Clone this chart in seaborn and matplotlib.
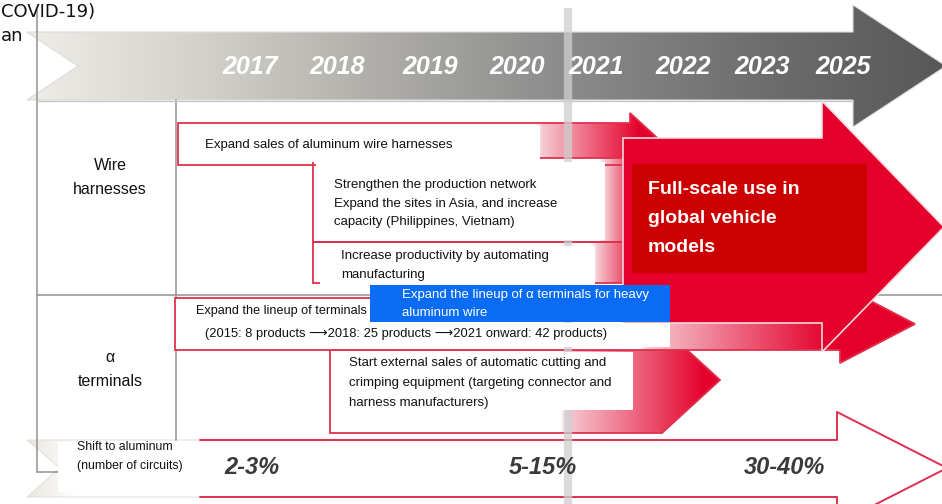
import numpy as np
import seaborn as sns
import matplotlib.pyplot as plt
from matplotlib.patches import Polygon, Rectangle
from matplotlib.colors import to_rgb

# ---- content ----
years = ["2017", "2018", "2019", "2020", "2021", "2022", "2023", "2025"]
shift_share = ["2-3%", "5-15%", "30-40%"]
row_labels = [["Wire", "harnesses"], ["α", "terminals"]]
wire_sales = ["Expand sales of aluminum wire harnesses"]
wire_network = ["Strengthen the production network",
                "Expand the sites in Asia, and increase",
                "capacity (Philippines, Vietnam)"]
wire_auto = ["Increase productivity by automating", "manufacturing"]
term_lineup = ["Expand the lineup of terminals",
               "(2015: 8 products \u27f62018: 25 products \u27f62021 onward: 42 products)"]
term_heavy = ["Expand the lineup of α terminals for heavy", "aluminum wire"]
term_equip = ["Start external sales of automatic cutting and",
              "crimping equipment (targeting connector and",
              "harness manufacturers)"]
headline = ["Full-scale use in", "global vehicle", "models"]
shift_title = ["Shift to aluminum", "(number of circuits)"]
corner_text = ["COVID-19)", "an"]

# ---- layout (pixels, y down) ----
year_x = [250, 337, 430, 517, 596, 683, 762, 843]
share_x = [252, 543, 785]
RED = "#e4002b"
EDGE = "#e0304e"
GRID = "#9a9a9a"
INK = "#111111"

sns.set_theme(style="white")
BODY = ["Liberation Sans", "DejaVu Sans"]
plt.rcParams["font.family"] = BODY

fig = plt.figure(figsize=(9.42, 5.04), dpi=100)
ax = fig.add_axes([0, 0, 1, 1])


def grad_shape(verts, stops, z, edge="none", lw=0.0):
    poly = Polygon(verts, closed=True, facecolor="none", edgecolor=edge,
                   lw=lw, zorder=z + 0.05)
    ax.add_patch(poly)
    xs = [v[0] for v in verts]
    ys = [v[1] for v in verts]
    xx = np.linspace(min(xs), max(xs), 600)
    sx = [s[0] for s in stops]
    cols = np.array([to_rgb(s[1]) for s in stops])
    rgb = np.stack([np.interp(xx, sx, cols[:, k]) for k in range(3)], axis=-1)
    img = ax.imshow(rgb[None, :, :], extent=(min(xs), max(xs), max(ys), min(ys)),
                    aspect="auto", zorder=z, interpolation="bilinear")
    img.set_clip_path(poly)
    return poly


def box(x0, y0, x1, y1, color="white", z=6):
    ax.add_patch(Rectangle((x0, y0), x1 - x0, y1 - y0, facecolor=color,
                           edgecolor="none", zorder=z))


def put_lines(x, y0, step, lines, **kw):
    for i, s in enumerate(lines):
        ax.text(x, y0 + i * step, s, va="center", ha="left", zorder=9, **kw)


# top timeline arrow
grad_shape([(27, 32), (853, 32), (853, 5), (946, 66), (853, 127), (853, 100),
            (27, 100), (78, 66)],
           [(27, "#efede8"), (200, "#d3d1ca"), (420, "#a6a5a1"), (560, "#8c8c8c"),
            (760, "#6e6e6e"), (942, "#585858")], z=1, edge="#dcdcdc", lw=0.8)
for x, y in zip(year_x, years):
    ax.text(x, 67, y, ha="center", va="center", color="white", fontsize=18,
            fontweight="bold", fontstyle="italic", zorder=9)

# bottom "shift to aluminum" arrow
grad_shape([(27, 440), (837, 440), (837, 412), (947, 468), (837, 524), (837, 497),
            (27, 497), (60, 468)],
           [(27, "#e9e6de"), (75, "#ffffff")], z=1.5, edge="#e4e1da", lw=0.8)
ax.plot([200, 837, 837, 947, 837, 837, 200],
        [440, 440, 412, 468, 524, 497, 497], color=EDGE, lw=1.4, zorder=1.7)

# table lines
ax.plot([37, 37], [10, 472], color=GRID, lw=1.2, zorder=2)
ax.plot([37, 60], [472, 472], color=GRID, lw=1.2, zorder=2)
ax.plot([176, 176], [100, 440], color=GRID, lw=1.2, zorder=2)
ax.plot([37, 942], [295, 295], color=GRID, lw=1.2, zorder=2)
ax.plot([37, 853], [101, 101], color="#c8c8c8", lw=1.0, zorder=2)

# red roadmap arrows
fade = lambda a, b: [(a, "#ffffff"), (a + 8, "#f6c8d1"), (b, RED)]
grad_shape([(178, 123), (630, 123), (630, 113), (664, 144), (630, 175), (630, 165),
            (178, 165)], fade(535, 640), z=3, edge=EDGE, lw=1.3)
grad_shape([(313, 158), (640, 158), (640, 242), (313, 242)], fade(598, 640),
           z=3, edge=EDGE, lw=1.3)
grad_shape([(313, 242), (640, 242), (640, 283), (313, 283)], fade(590, 640),
           z=3, edge=EDGE, lw=1.3)
grad_shape([(330, 350), (662, 350), (662, 327), (720, 380), (662, 433),
            (330, 433)], fade(560, 705), z=3, edge=EDGE, lw=1.3)
grad_shape([(175, 298), (840, 298), (840, 285), (915, 324), (840, 363), (840, 350),
            (175, 350)], fade(640, 830), z=3.5, edge=EDGE, lw=1.3)

# 2021 marker stripe
ax.plot([568, 568], [8, 504], color="#cfcfcf", lw=6, alpha=0.75, zorder=4,
        solid_capstyle="butt")

# full-scale arrow
ax.add_patch(Polygon([(623, 138), (822, 138), (822, 101), (944, 227), (822, 352),
                      (822, 323), (623, 323)], closed=True, facecolor=RED,
                     edgecolor="#f3d9df", lw=1.2, zorder=5))
box(632, 164, 867, 273, color="#cc0000", z=5.5)
put_lines(648, 190, 28.5, headline, color="white", fontsize=14, fontweight="bold")

# text backgrounds
box(180, 126, 540, 162)
box(316, 162, 605, 240)
box(320, 246, 595, 288)
box(190, 300, 372, 322)
box(178, 323, 670, 347)
box(333, 352, 633, 410)
box(58, 442, 215, 492)
box(370, 285, 670, 322, color="#0a6cf5", z=6.5)

# texts
put_lines(205, 145, 18.5, wire_sales, fontsize=9.5, color=INK)
put_lines(334, 185, 18.5, wire_network, fontsize=9.5, color=INK)
put_lines(341, 256, 19, wire_auto, fontsize=9.5, color=INK)
put_lines(196, 311, 0, term_lineup[:1], fontsize=9.1, color=INK)
put_lines(205, 334, 0, term_lineup[1:], fontsize=9.3, color=INK)
put_lines(402, 295, 18.5, term_heavy, fontsize=9.5, color="white")
put_lines(349, 363, 20, term_equip, fontsize=9.5, color=INK)
put_lines(77, 447, 19, shift_title, fontsize=8.8, color=INK)

for (label, yc) in zip(row_labels, [176, 368]):
    for i, s in enumerate(label):
        ax.text(110, yc - 11 + i * 24, s, ha="center", va="center", fontsize=11.5,
                color=INK, zorder=9)

for x, s in zip(share_x, shift_share):
    ax.text(x, 468, s, ha="center", va="center", fontsize=17, fontweight="bold",
            fontstyle="italic", color="#3a3a3a", zorder=9)

# partly visible heading at the top-left corner
put_lines(1, 12, 24, corner_text, fontsize=13, family="DejaVu Sans", color=INK)

ax.set_xlim(0, 942)
ax.set_ylim(504, 0)
ax.axis("off")
fig.savefig("out.png", dpi=100)
